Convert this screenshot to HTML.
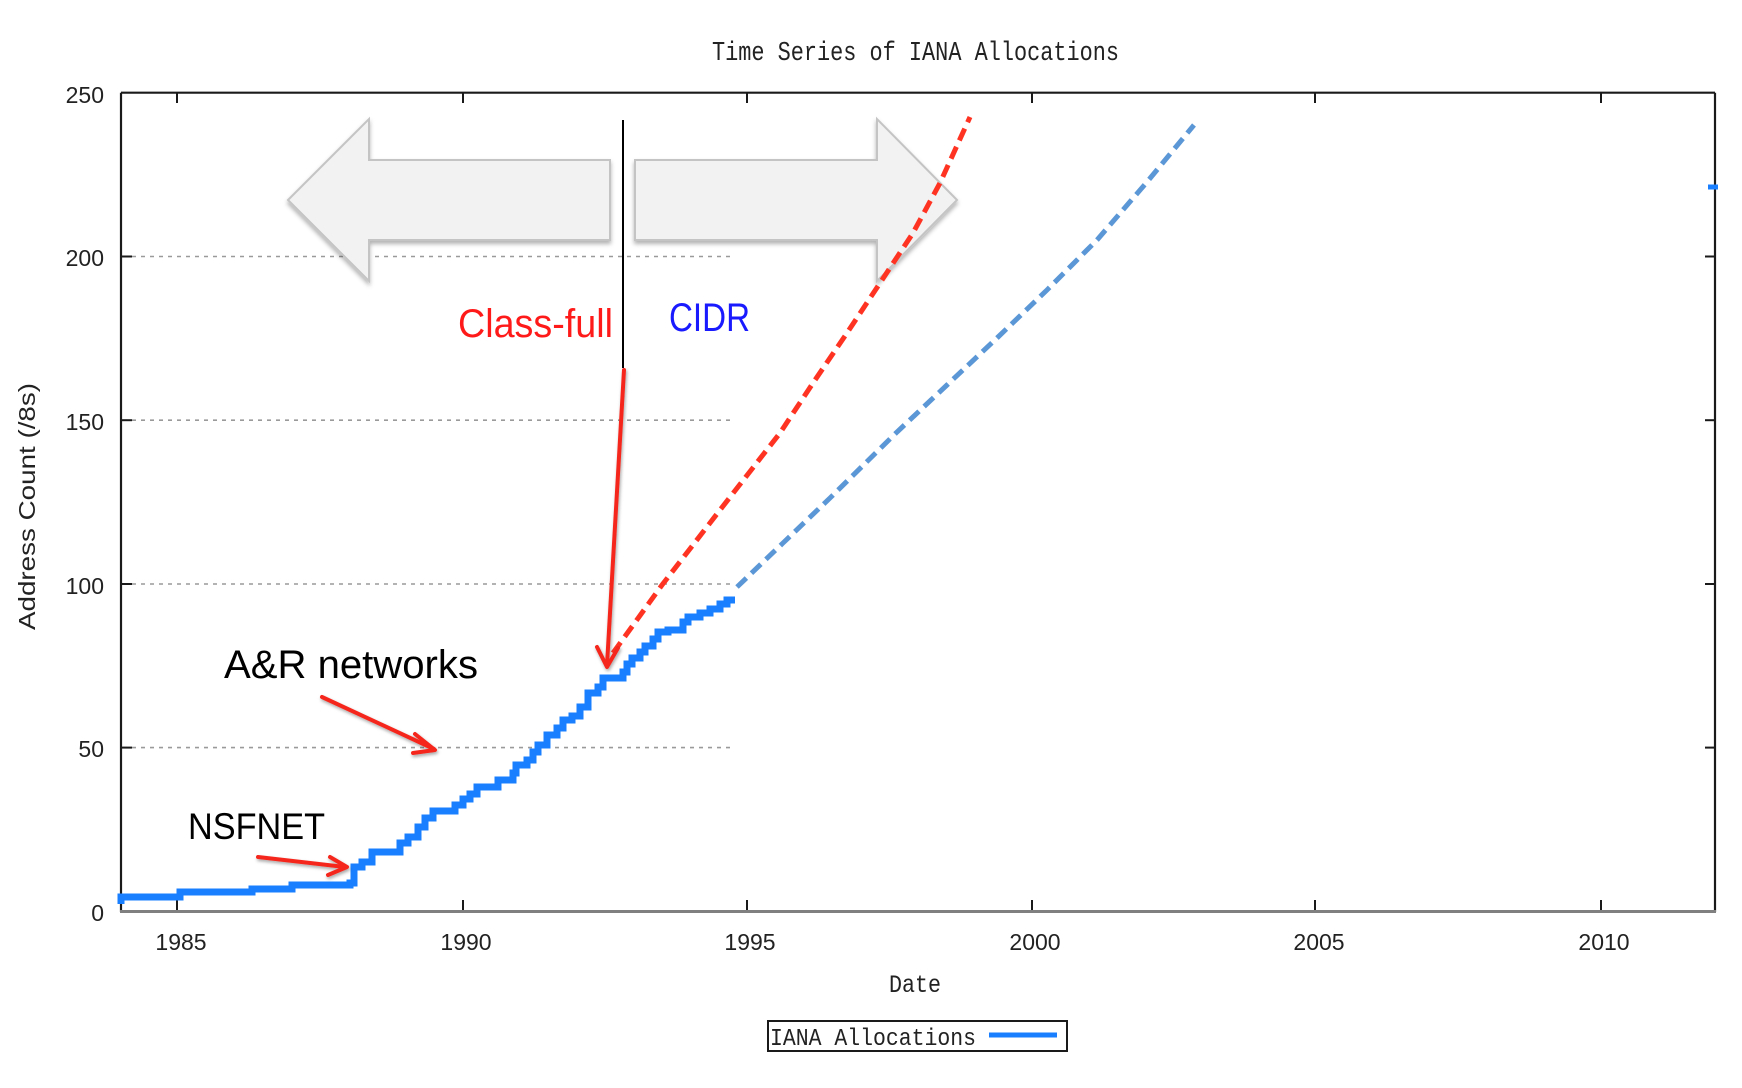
<!DOCTYPE html>
<html>
<head>
<meta charset="utf-8">
<style>
  html, body { margin: 0; padding: 0; background: #fff; }
  svg { display: block; }
</style>
</head>
<body>
<svg width="1742" height="1088" viewBox="0 0 1742 1088" xmlns="http://www.w3.org/2000/svg">
  <defs>
    <filter id="sh" x="-10%" y="-10%" width="130%" height="140%">
      <feDropShadow dx="0" dy="3" stdDeviation="2" flood-color="#000" flood-opacity="0.3"/>
    </filter>
    <filter id="sh2" x="-20%" y="-20%" width="140%" height="140%">
      <feDropShadow dx="1" dy="2" stdDeviation="1.5" flood-color="#000" flood-opacity="0.35"/>
    </filter>
  </defs>
  <rect width="1742" height="1088" fill="#fff"/>

  <!-- Title -->
  <text x="712" y="60" font-family="Liberation Mono, monospace" font-size="27" fill="#222" textLength="407" lengthAdjust="spacingAndGlyphs">Time Series of IANA Allocations</text>

  <!-- Grid lines -->
  <g stroke="#9a9a9a" stroke-width="1.6" stroke-dasharray="4 5">
    <line x1="123" y1="747.6" x2="735" y2="747.6"/>
    <line x1="123" y1="584" x2="735" y2="584"/>
    <line x1="123" y1="420.2" x2="735" y2="420.2"/>
    <line x1="123" y1="256.5" x2="735" y2="256.5"/>
  </g>

  <!-- Axes -->
  <g stroke="#1a1a1a" stroke-width="2.2" fill="none">
    <line x1="121" y1="92.7" x2="1715" y2="92.7"/>
    <line x1="121" y1="92.7" x2="121" y2="912"/>
    <line x1="1715" y1="92.7" x2="1715" y2="912"/>
  </g>
  <line x1="120" y1="911.5" x2="1716" y2="911.5" stroke="#808080" stroke-width="3"/>

  <!-- Ticks -->
  <g stroke="#1a1a1a" stroke-width="2">
    <line x1="177" y1="93" x2="177" y2="103"/>
    <line x1="463" y1="93" x2="463" y2="103"/>
    <line x1="747" y1="93" x2="747" y2="103"/>
    <line x1="1032" y1="93" x2="1032" y2="103"/>
    <line x1="1315" y1="93" x2="1315" y2="103"/>
    <line x1="1601" y1="93" x2="1601" y2="103"/>
    <line x1="177" y1="910" x2="177" y2="900"/>
    <line x1="463" y1="910" x2="463" y2="900"/>
    <line x1="747" y1="910" x2="747" y2="900"/>
    <line x1="1032" y1="910" x2="1032" y2="900"/>
    <line x1="1315" y1="910" x2="1315" y2="900"/>
    <line x1="1601" y1="910" x2="1601" y2="900"/>
    <line x1="121" y1="747.6" x2="132" y2="747.6"/>
    <line x1="121" y1="584" x2="132" y2="584"/>
    <line x1="121" y1="420.2" x2="132" y2="420.2"/>
    <line x1="121" y1="256.5" x2="132" y2="256.5"/>
    <line x1="1715" y1="747.6" x2="1705" y2="747.6"/>
    <line x1="1715" y1="584" x2="1705" y2="584"/>
    <line x1="1715" y1="420.2" x2="1705" y2="420.2"/>
    <line x1="1715" y1="256.5" x2="1705" y2="256.5"/>
  </g>

  <!-- Y tick labels -->
  <g font-family="Liberation Sans, Arial, sans-serif" font-size="23" fill="#222" text-anchor="end">
    <text x="104" y="921">0</text>
    <text x="104" y="757">50</text>
    <text x="104" y="594">100</text>
    <text x="104" y="430">150</text>
    <text x="104" y="266">200</text>
    <text x="104" y="103">250</text>
  </g>

  <!-- X tick labels -->
  <g font-family="Liberation Sans, Arial, sans-serif" font-size="23" fill="#222" text-anchor="middle">
    <text x="181" y="950">1985</text>
    <text x="466" y="950">1990</text>
    <text x="750" y="950">1995</text>
    <text x="1035" y="950">2000</text>
    <text x="1319" y="950">2005</text>
    <text x="1604" y="950">2010</text>
  </g>

  <!-- Axis labels -->
  <text x="889" y="992" font-family="Liberation Mono, monospace" font-size="25" fill="#222" textLength="52" lengthAdjust="spacingAndGlyphs">Date</text>
  <text transform="translate(35,630) rotate(-90)" x="0" y="0" font-family="Liberation Sans, Arial, sans-serif" font-size="23" fill="#222" textLength="247" lengthAdjust="spacingAndGlyphs">Address Count (/8s)</text>

  <!-- Legend -->
  <rect x="768" y="1021" width="299" height="30" fill="#fff" stroke="#1a1a1a" stroke-width="2"/>
  <text x="770" y="1045" font-family="Liberation Mono, monospace" font-size="24" fill="#222" textLength="206" lengthAdjust="spacingAndGlyphs">IANA Allocations</text>
  <line x1="989" y1="1035" x2="1057" y2="1035" stroke="#1a7fff" stroke-width="5"/>

  <!-- Block arrows -->
  <g fill="#f2f2f2" stroke="#c4c4c4" stroke-width="2" filter="url(#sh)">
    <polygon points="288,200 369,119 369,160 610,160 610,240 369,240 369,281"/>
    <polygon points="957,200 877,119 877,160 635,160 635,240 877,240 877,281"/>
  </g>

  <!-- Vertical divider -->
  <line x1="623" y1="120" x2="623" y2="368" stroke="#000" stroke-width="2"/>

  <!-- Projection dashed lines -->
  <polyline points="613,653 662,585 720,510 780,433 813,383 847,333 880,283 913,233 940,183 970,117"
            fill="none" stroke="#ff3322" stroke-width="5" stroke-dasharray="13 7"/>
  <polyline points="737,587 783,543 830,498 897,432 947,385 997,338 1047,290 1097,240 1147,182 1194,125"
            fill="none" stroke="#5b97d6" stroke-width="5" stroke-dasharray="13 7"/>

  <!-- Blue step series -->
  <path d="M121,904 V897 H180 V892 H252 V889 H292 V885 H350 V883 H354 V867 H362 V862 H372 V852 H400 V843 H408 V837 H418 V827 H425 V818 H433 V811 H455 V805 H463 V799 H470 V794 H477 V787 H498 V780 H513 V773 H516 V765 H527 V760 H533 V752 H538 V745 H547 V735 H557 V728 H563 V720 H572 V716 H580 V707 H588 V693 H598 V687 H603 V678 H623 V672 H627 V664 H632 V658 H640 V652 H645 V646 H653 V639 H658 V632 H668 V630 H683 V622 H688 V617 H700 V613 H710 V609 H720 V604 H727 V600 H735"
        fill="none" stroke="#1a7fff" stroke-width="7" stroke-linejoin="miter"/>
  <rect x="1708" y="184.5" width="10" height="5" fill="#1a7fff"/>

  <!-- Red annotation arrows -->
  <g stroke="#f5281e" stroke-width="4" fill="none" stroke-linecap="round" stroke-linejoin="round" filter="url(#sh2)">
    <line x1="624" y1="370" x2="607" y2="665"/>
    <polyline points="597,647 607,667 618,648"/>
    <line x1="322" y1="697" x2="434" y2="749"/>
    <polyline points="415,734 435,750 413,753"/>
    <line x1="258" y1="857" x2="345" y2="867"/>
    <polyline points="330,857 347,867 328,875"/>
  </g>

  <!-- Annotation text -->
  <text x="458" y="337" font-family="Liberation Sans, Arial, sans-serif" font-size="40" fill="#ff1a1a" textLength="155" lengthAdjust="spacingAndGlyphs">Class-full</text>
  <text x="669" y="331" font-family="Liberation Sans, Arial, sans-serif" font-size="40" fill="#1a1aff" textLength="81" lengthAdjust="spacingAndGlyphs">CIDR</text>
  <text x="224" y="678" font-family="Liberation Sans, Arial, sans-serif" font-size="40" fill="#000" textLength="254" lengthAdjust="spacingAndGlyphs">A&amp;R networks</text>
  <text x="188" y="839" font-family="Liberation Sans, Arial, sans-serif" font-size="37" fill="#000" textLength="137" lengthAdjust="spacingAndGlyphs">NSFNET</text>
</svg>
</body>
</html>
